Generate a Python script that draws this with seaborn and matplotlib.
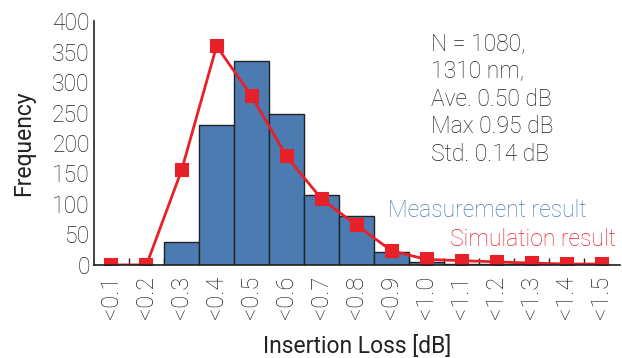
import numpy as np
import pandas as pd
import seaborn as sns
from matplotlib import pyplot as plt

# Datos
categorias = ["<0.1", "<0.2", "<0.3", "<0.4", "<0.5", "<0.6", "<0.7", "<0.8",
              "<0.9", "<1.0", "<1.1", "<1.2", "<1.3", "<1.4", "<1.5"]
medida = [0, 0, 37, 229, 335, 247, 115, 80, 21, 4, 2, 1, 1, 0, 0]
simulacion = [0, 0, 155, 359, 277, 178, 108, 65, 23, 9, 7, 5, 3, 1.5, 1.5]
y_ticks = [0, 50, 100, 150, 200, 250, 300, 350, 400]
info = ["N = 1080,", "1310 nm,", "Ave. 0.50 dB", "Max 0.95 dB", "Std. 0.14 dB"]

azul = "#4b7bb1"
rojo = "#e8202a"
gris = "#222222"
fs = 16.5

sns.set_style("white")
plt.rcParams["font.family"] = ["Roboto", "Liberation Sans", "DejaVu Sans"]
plt.rcParams["font.weight"] = "light"

fig = plt.figure(figsize=(6.22, 3.58), dpi=100)
ax = fig.add_axes([0.151, 0.26, 0.845, 0.681])

df = pd.DataFrame({"cat": categorias, "medida": medida, "sim": simulacion})

sns.barplot(data=df, x="cat", y="medida", color=azul, width=1.0,
            edgecolor="#222222", linewidth=1.0, saturation=1, ax=ax)
sns.pointplot(data=df, x="cat", y="sim", color=rojo, marker="s",
              markersize=8, linewidth=2, ax=ax)

ax.set_xlim(-0.5, 14.5)
ax.set_ylim(0, 400)
ax.set_yticks(y_ticks)
ax.set_xticks(range(len(categorias)))
ax.set_xticklabels(categorias, rotation=90)
ax.set_xticks(np.arange(0.5, len(categorias) - 0.5, 1), minor=True)

ax.tick_params(axis="y", direction="in", length=6, width=1, color=gris,
               labelsize=fs, labelcolor=gris, pad=3)
ax.tick_params(axis="x", which="major", length=0, labelsize=fs + 0.5,
               labelcolor=gris, pad=8)
ax.tick_params(axis="x", which="minor", direction="in", length=5, width=1,
               color=gris, bottom=True)

for s in ["top", "right"]:
    ax.spines[s].set_visible(False)
for s in ["left", "bottom"]:
    ax.spines[s].set_color(gris)
    ax.spines[s].set_linewidth(1.2)

ax.set_xlabel("Insertion Loss [dB]", fontsize=fs, color=gris, labelpad=11)
ax.set_ylabel("Frequency", fontsize=fs, color=gris, labelpad=12)

fig.text(0.693, 0.908, "\n".join(info), fontsize=fs, color=gris,
         va="top", ha="left", linespacing=1.25)
fig.text(0.624, 0.413, "Measurement result", fontsize=fs, color=azul,
         va="center", ha="left")
fig.text(0.99, 0.33, "Simulation result", fontsize=fs, color=rojo,
         va="center", ha="right")

fig.savefig("out.png", dpi=100)
